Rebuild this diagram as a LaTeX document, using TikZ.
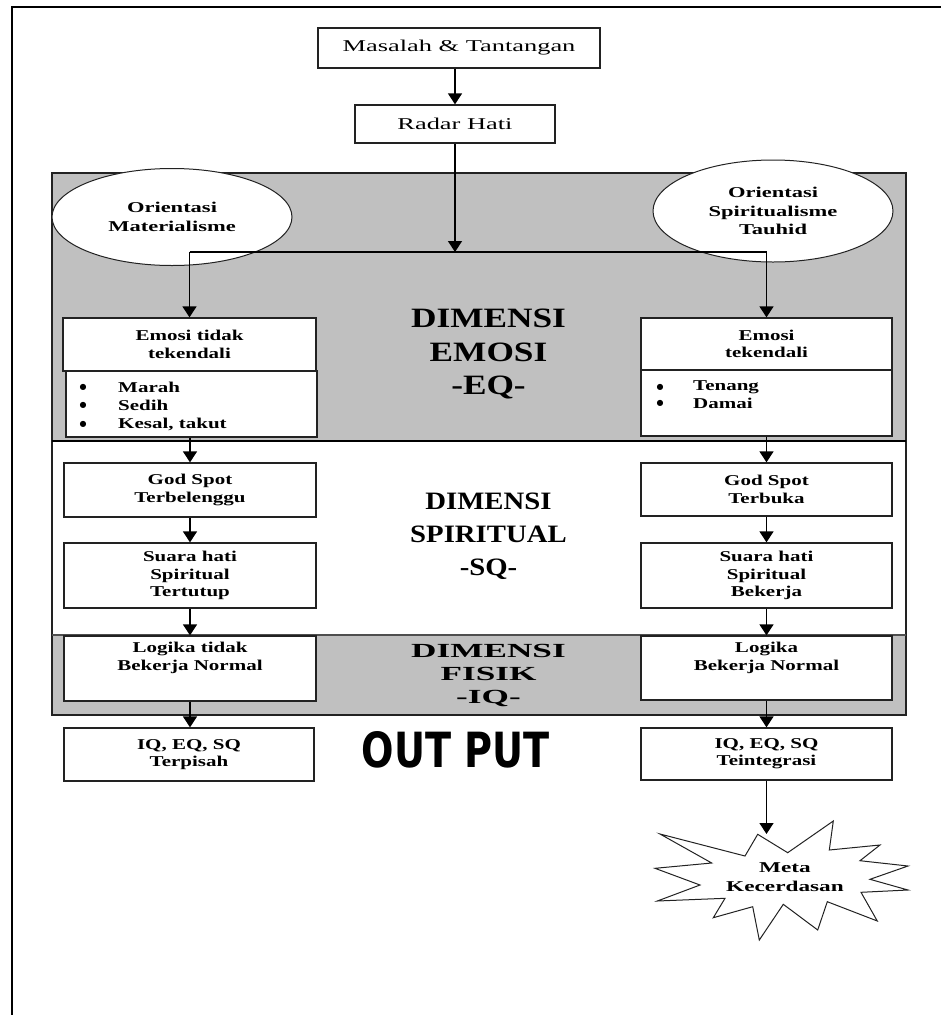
\documentclass[tikz,border=0pt]{standalone}
\usepackage{fontspec}
\usepackage{graphicx}
\setmainfont{Liberation Serif}
\newfontfamily\topf[FakeStretch=1.6]{Liberation Serif}
\newfontfamily\boxf[FakeStretch=1.4]{Liberation Serif}
\newfontfamily\ellf[FakeStretch=1.5]{Liberation Serif}
\newfontfamily\metaf[FakeStretch=1.55]{Liberation Serif}
\newfontfamily\dimEf[FakeStretch=1.26]{Liberation Serif}
\newfontfamily\dimSf[FakeStretch=1.15]{Liberation Serif}
\newfontfamily\dimFf[FakeStretch=1.76]{Liberation Serif}
\newfontfamily\outf{DejaVu Sans}
\newfontfamily\symf{DejaVu Sans}
\usetikzlibrary{arrows.meta,shapes.geometric}
\definecolor{bandgray}{HTML}{C0C0C0}
\definecolor{edge}{HTML}{222222}
\tikzset{
  box/.style={draw=edge, line width=1.3pt, fill=white, rectangle, inner sep=0pt, align=center,
    font=\boxf\bfseries\fontsize{15}{17.3}\selectfont},
  ell/.style={draw=edge, line width=1pt, fill=white, ellipse, inner sep=0pt, align=center,
    font=\ellf\bfseries\fontsize{15}{18.5}\selectfont},
  topbox/.style={draw=edge, line width=1.3pt, fill=white, rectangle, inner sep=0pt,
    font=\topf\fontsize{16.5}{19}\selectfont},
  arr/.style={line width=1.4pt, -{Triangle[width=14pt,length=11pt]}},
  conn/.style={line width=1.4pt},
  txt/.style={inner sep=0pt, align=center, font=\boxf\bfseries\fontsize{15}{17.3}\selectfont},
  bul/.style={inner sep=0pt, anchor=west, font=\boxf\bfseries\fontsize{15}{17.3}\selectfont},
  bdot/.style={inner sep=0pt, font=\symf\fontsize{8}{9}\selectfont},
}
\begin{document}
\begin{tikzpicture}[x=1pt,y=-1pt]
\useasboundingbox (0,0) rectangle (941,1015);
% outer frame
\draw[line width=2pt, black] (12,1015) -- (12,7) -- (941,7);
% dimension bands
\fill[bandgray] (52,173) rectangle (906,441);
\fill[white] (52,441) rectangle (906,635);
\fill[bandgray] (52,635) rectangle (906,715);
\draw[edge, line width=1.5pt] (52,173) rectangle (906,715);
\draw[black, line width=2pt] (52,441) -- (906,441);
\draw[edge!80, line width=1.2pt] (52,635) -- (906,635);

% top boxes
\node[topbox, minimum width=282pt, minimum height=40pt] (mas) at (459,48) {Masalah \& Tantangan};
\node[topbox, minimum width=200pt, minimum height=38pt] (rad) at (455,124) {Radar Hati};

% ellipses
\node[ell, minimum width=240pt, minimum height=97pt] (ellL) at (172,217) {Orientasi\\Materialisme};
\node[ell, minimum width=240pt, minimum height=102pt] (ellR) at (773,211) {Orientasi\\Spiritualisme\\Tauhid};

% left column
\node[box, minimum width=253pt, minimum height=53pt] (emL) at (189.5,344.5) {Emosi tidak\\tekendali};
\node[box, minimum width=251pt, minimum height=66pt] (emLl) at (191.5,404) {};
\node[box, minimum width=252pt, minimum height=54pt] (gsL) at (190,490) {God Spot\\Terbelenggu};
\node[box, minimum width=252pt, minimum height=65pt] (shL) at (190,575.5) {Suara hati\\Spiritual\\Tertutup};
\node[box, minimum width=252pt, minimum height=65pt] (lgL) at (190,668.5) {};
\node[txt] (lgLt) at (190,658) {Logika tidak\\Bekerja Normal};
\node[box, minimum width=250pt, minimum height=53pt] (iqL) at (189,754.5) {IQ, EQ, SQ\\Terpisah};

% right column
\node[box, minimum width=251pt, minimum height=52pt] (emR) at (766.5,344) {Emosi\\tekendali};
\node[box, minimum width=251pt, minimum height=66pt] (emRl) at (766.5,403) {};
\node[box, minimum width=251pt, minimum height=53pt] (gsR) at (766.5,489.5) {God Spot\\Terbuka};
\node[box, minimum width=251pt, minimum height=65pt] (shR) at (766.5,575.5) {Suara hati\\Spiritual\\Bekerja};
\node[box, minimum width=251pt, minimum height=64pt] (lgR) at (766.5,668) {};
\node[txt] (lgRt) at (766.5,658) {Logika\\Bekerja Normal};
\node[box, minimum width=251pt, minimum height=52pt] (iqR) at (766.5,754) {IQ, EQ, SQ\\Teintegrasi};

% bullet lists
\node[bdot] (b1) at (83,387) {●};
\node[bul] (t1) at (118,387) {Marah};
\node[bdot] (b2) at (83,405.5) {●};
\node[bul] (t2) at (118,405.5) {Sedih};
\node[bdot] (b3) at (83,424) {●};
\node[bul] (t3) at (118,424) {Kesal, takut};
\node[bdot] (b4) at (660,387) {●};
\node[bul] (t4) at (693,387) {Tenang};
\node[bdot] (b5) at (660,403.5) {●};
\node[bul] (t5) at (693,403.5) {Damai};

% dimension labels
\node[inner sep=0pt, align=center, font=\dimEf\bfseries\fontsize{28}{33.5}\selectfont] (dimE) at (488.5,354) {DIMENSI\\EMOSI\\-EQ-};
\node[inner sep=0pt, align=center, font=\dimSf\bfseries\fontsize{25}{33}\selectfont] (dimS) at (488.5,536) {DIMENSI\\SPIRITUAL\\-SQ-};
\node[inner sep=0pt, align=center, font=\dimFf\bfseries\fontsize{20}{23}\selectfont] (dimF) at (488.5,675) {DIMENSI\\FISIK\\-IQ-};

% output label
\node[inner sep=0pt] (out) at (456,750) {\resizebox{188pt}{36pt}{\outf\bfseries OUT PUT}};

% star
\draw[edge, line width=1pt, fill=white] (660,834) -- (745,856) -- (757.7,834.3) -- (787.7,852.7) -- (833.3,821) -- (829.3,850) -- (880,845) -- (860,860.7) -- (908,866) -- (870,879.3) -- (908,890) -- (861,892.3) -- (877.3,921) -- (827.3,901.7) -- (817.7,930) -- (783.3,904.3) -- (759.3,940) -- (752.7,906.7) -- (713.3,917.7) -- (725,898.3) -- (657.3,901) -- (700,885) -- (655,868.3) -- (711.7,863) -- cycle;
\node[txt, font=\metaf\bfseries\fontsize{15}{18.7}\selectfont] (meta) at (785,877) {Meta\\Kecerdasan};
\coordinate (startop) at (766.5,834);

% connectors
\coordinate (jc) at (455,252);
\coordinate (jl) at (emL.north |- jc);
\coordinate (jr) at (emR.north |- jc);
\draw[arr] (mas.south -| rad.north) -- (rad.north);
\draw[arr] (rad.south) -- (jc);
\draw[conn] (jl) -- (jr);
\draw[arr] (jl) -- (emL.north);
\draw[arr] (jr) -- (emR.north);

\draw[arr] (emLl.south -| gsL.north) -- (gsL.north);
\draw[arr] (gsL.south) -- (shL.north);
\draw[arr] (shL.south) -- (lgL.north);
\draw[arr] (lgL.south) -- (iqL.north -| lgL.south);

\draw[arr] (emRl.south) -- (gsR.north);
\draw[arr] (gsR.south) -- (shR.north);
\draw[arr] (shR.south) -- (lgR.north);
\draw[arr] (lgR.south) -- (iqR.north);
\draw[arr] (iqR.south) -- (startop);
\end{tikzpicture}
\end{document}
